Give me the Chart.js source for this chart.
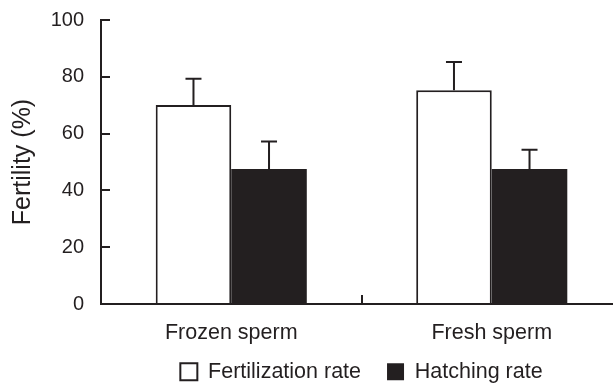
<!DOCTYPE html>
<html>
<head>
<meta charset="utf-8">
<script src="https://cdn.jsdelivr.net/npm/chart.js@4"></script>
<style>
  html, body { margin: 0; padding: 0; background: #fff; overflow: hidden; }
  #wrap { width: 622px; height: 386px; }
</style>
</head>
<body>
<div id="wrap"><canvas id="fertilityChart"></canvas></div>
<script>
var categories = ['Frozen sperm', 'Fresh sperm'];
var fertilizationRate = [70.1, 75.3];
var fertilizationErr  = [9.2, 9.9];
var hatchingRate = [47.5, 47.5];
var hatchingErr  = [9.7, 6.8];
var yTicks = [0, 20, 40, 60, 80, 100];

var ink = '#231f20';
var font = 'Liberation Sans, Arial, Helvetica, sans-serif';

// error bars (upper side only) drawn from the dataset values
var errorBars = {
  id: 'errorBars',
  afterDatasetsDraw: function(chart) {
    var ctx = chart.ctx;
    var y = chart.scales.y;
    ctx.save();
    ctx.strokeStyle = ink;
    ctx.lineWidth = 2;
    chart.data.datasets.forEach(function(ds, di) {
      var meta = chart.getDatasetMeta(di);
      meta.data.forEach(function(bar, i) {
        var top = y.getPixelForValue(ds.data[i] + ds.errors[i]);
        ctx.beginPath();
        ctx.moveTo(bar.x, bar.y);
        ctx.lineTo(bar.x, top);
        ctx.moveTo(bar.x - 8, top);
        ctx.lineTo(bar.x + 8, top);
        ctx.stroke();
      });
    });
    ctx.restore();
  }
};

// the x labels sit below the (short) x axis box, so don't clip them to it
var noLabelClip = {
  id: 'noLabelClip',
  beforeDraw: function(chart) {
    chart.scales.x._computeLabelArea = function() { return undefined; };
  }
};

var ctx = document.getElementById('fertilityChart');

var fertilityChart = new Chart(ctx, {
  type: 'bar',
  data: {
    labels: categories,
    datasets: [{
      label: 'Fertilization rate',
      data: fertilizationRate,
      errors: fertilizationErr,
      backgroundColor: '#ffffff',
      borderColor: ink,
      borderWidth: 2
    }, {
      label: 'Hatching rate',
      data: hatchingRate,
      errors: hatchingErr,
      backgroundColor: ink,
      borderColor: ink,
      borderWidth: 0
    }]
  },
  options: {
    responsive: true,
    maintainAspectRatio: false,
    animation: false,
    layout: { padding: { top: 20, left: 0, right: 0, bottom: 0 } },
    datasets: {
      bar: { categoryPercentage: 0.58, barPercentage: 1 }
    },
    plugins: {
      tooltip: { enabled: false },
      legend: {
        position: 'bottom',
        fullSize: false,
        maxHeight: 51,
        labels: {
          color: ink,
          font: { family: font, size: 21.5 },
          boxWidth: 17,
          boxHeight: 17,
          padding: 26,
          useBorderRadius: false
        }
      }
    },
    scales: {
      x: {
        offset: true,
        afterFit: function(scale) {
          scale.height = 31;
          scale.paddingLeft = 0;
          scale.paddingRight = 0;
        },
        grid: {
          offset: true,
          drawOnChartArea: false,
          drawTicks: true,
          tickLength: -9,
          color: ink,
          lineWidth: 2
        },
        border: { display: true, color: ink, width: 2 },
        ticks: {
          color: ink,
          font: { family: font, size: 21.5 },
          padding: 25
        }
      },
      y: {
        min: 0,
        max: 100,
        afterBuildTicks: function(scale) {
          scale.ticks = yTicks.map(function(v) { return { value: v }; });
        },
        afterFit: function(scale) {
          scale.width = 101;
          scale.paddingTop = 0;
          scale.paddingBottom = 0;
        },
        grid: {
          drawOnChartArea: false,
          drawTicks: true,
          tickLength: -9,
          color: ink,
          lineWidth: 2
        },
        border: { display: true, color: ink, width: 2 },
        ticks: {
          color: ink,
          font: { family: font, size: 20 },
          padding: 26
        },
        title: {
          display: true,
          text: 'Fertility (%)',
          color: ink,
          font: { family: font, size: 25 },
          padding: { top: 8, bottom: 0 }
        }
      }
    }
  },
  plugins: [errorBars, noLabelClip]
});
</script>
</body>
</html>
